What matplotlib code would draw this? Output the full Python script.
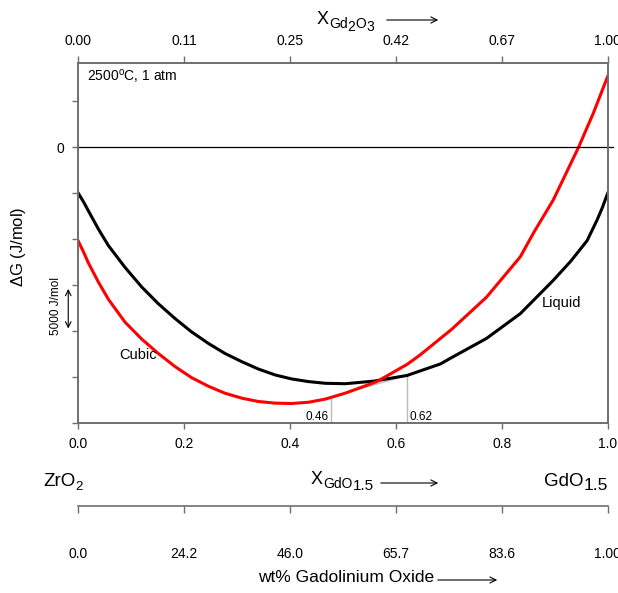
import numpy as np
import matplotlib
matplotlib.use("Agg")
import matplotlib.pyplot as plt
from matplotlib.patches import FancyArrowPatch

plt.rcParams['font.family'] = ['Liberation Sans', 'DejaVu Sans']
plt.rcParams['mathtext.fontset'] = 'custom'
plt.rcParams['mathtext.rm'] = 'Liberation Sans'

# liquid curve
x_liquid = [0.0, 0.010, 0.019, 0.038, 0.057, 0.088, 0.120, 0.151, 0.183, 0.214, 0.246, 0.277, 0.309, 0.340,
            0.372, 0.403, 0.435, 0.466, 0.504, 0.558, 0.621, 0.684, 0.708, 0.771, 0.835, 0.897, 0.930,
            0.961, 0.980, 0.990, 1.0]
g_liquid = [-5000, -5950, -6910, -8900, -10700, -13040, -15200, -17000, -18630, -20070, -21330, -22410, -23310, -24100,
            -24750, -25180, -25470, -25650, -25700, -25420, -24800, -23550, -22770, -20780, -18080, -14480, -12400,
            -10160, -7900, -6550, -5000]

# cubic curve
x_cubic = [0.0, 0.010, 0.019, 0.038, 0.057, 0.088, 0.120, 0.151, 0.183, 0.214, 0.246, 0.277, 0.309, 0.340, 0.372,
           0.403, 0.435, 0.466, 0.504, 0.564, 0.621, 0.645, 0.705, 0.771, 0.835, 0.860, 0.897, 0.920, 0.945,
           0.973, 1.0]
g_cubic = [-10200, -11400, -12570, -14660, -16540, -18990, -20860, -22410, -23850, -25040, -25980, -26730, -27270, -27630, -27810,
           -27850, -27710, -27380, -26730, -25470, -23600, -22600, -19800, -16300, -11900, -9300, -5750, -3000, 0,
           3720, 7700]

# common tangent
x_tangent = [0.478, 0.621]
g_tangent = [-27150, -24800]
tangent_labels = ['0.46', '0.62']

x_ticks = [0.0, 0.2, 0.4, 0.6, 0.8, 1.0]
x_ticklabels = ['0.0', '0.2', '0.4', '0.6', '0.8', '1.0']
top_ticklabels = ['0.00', '0.11', '0.25', '0.42', '0.67', '1.00']
wt_ticklabels = ['0.0', '24.2', '46.0', '65.7', '83.6', '1.00']

W, H = 618, 593
def fx(x):
    return x / W
def fy(y):
    return 1 - y / H

fig = plt.figure(figsize=(6.18, 5.93), dpi=100)
renderer = fig.canvas.get_renderer()

def rich(x0, pieces):
    # pieces: (text, fontsize, baseline y in px)
    x = x0
    for s, size, yb in pieces:
        t = fig.text(fx(x), fy(yb), s, fontsize=size, ha='left', va='baseline')
        x += t.get_window_extent(renderer).width
    return x

def arrow(x0, x1, y):
    fig.add_artist(FancyArrowPatch((fx(x0), fy(y)), (fx(x1), fy(y)), transform=fig.transFigure,
                                   arrowstyle='->', mutation_scale=11, lw=0.8, color='black'))

ax = fig.add_axes([fx(78.3), fy(423.3), 529.4 / W, 360.3 / H])

spine_c = '#6e6e6e'
for s in ax.spines.values():
    s.set_color(spine_c)
    s.set_linewidth(1.2)

ax.plot(x_liquid, g_liquid, color='black', lw=2.2, solid_joinstyle='round')
ax.plot(x_cubic, g_cubic, color='#ff0000', lw=2.2, solid_joinstyle='round')
ax.plot([0, 1.01], [0, 0], color='black', lw=0.9, clip_on=False)

# tangent construction
ax.plot(x_tangent, g_tangent, color='#bbbbbb', lw=1, zorder=1)
for xt, gt in zip(x_tangent, g_tangent):
    ax.plot([xt, xt], [-30000, gt], color='#bbbbbb', lw=1, zorder=1)
ax.text(x_tangent[0] - 0.005, -29300, tangent_labels[0], ha='right', va='center', fontsize=8.5)
ax.text(x_tangent[1] + 0.005, -29300, tangent_labels[1], ha='left', va='center', fontsize=8.5)

ax.set_xlim(0, 1)
ax.set_ylim(-30000, 9150)
ax.set_xticks(x_ticks)
ax.set_xticklabels(x_ticklabels, fontsize=10)
yt = np.arange(-30000, 5001, 5000)
ax.set_yticks(yt)
ax.set_yticklabels(['0' if v == 0 else '' for v in yt], fontsize=10)
ax.tick_params(direction='out', length=4, width=1, color=spine_c, pad=6)

ax.text(0.016, 0.965, r'2500$\mathregular{^oC}$, 1 atm', transform=ax.transAxes,
        fontsize=10, va='center', ha='left')
ax.text(0.112, -22600, 'Cubic', fontsize=10.5, ha='center', va='center')
ax.text(0.912, -16900, 'Liquid', fontsize=10.5, ha='center', va='center')

# scale bar
ax.annotate('', xy=(-0.019, -15400), xytext=(-0.019, -19700),
            xycoords=('axes fraction', 'data'),
            arrowprops=dict(arrowstyle='<->', lw=0.8, color='black', shrinkA=0, shrinkB=0))
fig.text(fx(56), fy(306), '5000 J/mol', rotation=90, fontsize=8.5, ha='center', va='center')
fig.text(fx(19), fy(247), r'$\Delta$G (J/mol)', rotation=90, fontsize=12, ha='center', va='center')

# top axis: mole fraction Gd2O3
ax2 = ax.twiny()
ax2.set_xlim(0, 1)
ax2.set_xticks(x_ticks)
ax2.set_xticklabels(top_ticklabels, fontsize=10)
ax2.tick_params(direction='out', length=5, width=1, color=spine_c, pad=6)
for s in ax2.spines.values():
    s.set_color(spine_c)
    s.set_linewidth(1.2)
rich(317, [('X', 13, 24), ('Gd', 10, 28), ('2', 10, 31), ('O', 10, 28), ('3', 10, 31)])
arrow(384, 441, 20)

# composition labels
rich(43, [('ZrO', 13.5, 486), ('2', 9.5, 490)])
rich(311, [('X', 13, 484), ('GdO', 10, 488), ('1.5', 11, 490)])
arrow(378, 441, 483)
rich(544, [('GdO', 13.5, 486), ('1.5', 12.5, 490)])

# weight percent axis
ax3 = fig.add_axes([fx(78.3), fy(506), 529.4 / W, 0.0001])
ax3.set_xlim(0, 1)
for k in ['top', 'left', 'right']:
    ax3.spines[k].set_visible(False)
ax3.spines['bottom'].set_color(spine_c)
ax3.spines['bottom'].set_linewidth(1.2)
ax3.set_yticks([])
ax3.set_xticks(x_ticks)
ax3.set_xticklabels(wt_ticklabels, fontsize=10)
ax3.tick_params(direction='out', length=5, width=1, color=spine_c, pad=24.5)
fig.text(fx(258), fy(578), 'wt% Gadolinium Oxide', fontsize=12.5, ha='left', va='center')
arrow(435, 500, 580)

fig.savefig('out.png', dpi=100)
